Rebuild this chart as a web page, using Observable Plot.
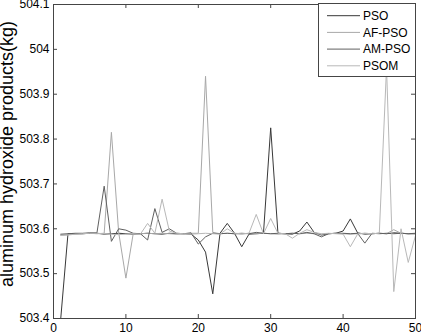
<!DOCTYPE html>
<html>
<head>
<meta charset="utf-8">
<script src="https://cdn.jsdelivr.net/npm/d3@7"></script>
<script src="https://cdn.jsdelivr.net/npm/@observablehq/plot@0.6"></script>
<style>
  body { margin: 0; background: #fff; }
  #wrap { position: relative; width: 421px; height: 332px; overflow: hidden; font-family: "Liberation Sans", Arial, sans-serif; }
  #legend { position: absolute; left: 318px; top: 3px; }
</style>
</head>
<body>
<div id="wrap"></div>
<script>
const seriesNames = ["PSO", "AF-PSO", "AM-PSO", "PSOM"];
const seriesColors = ["#383838", "#a8a8a8", "#606060", "#b8b8b8"];
const xTicks = [0, 10, 20, 30, 40, 50];
const yTicks = [503.4, 503.5, 503.6, 503.7, 503.8, 503.9, 504.0, 504.1];
const iterations = d3.range(1, 51);

const pso = [503.40, 503.589, 503.589, 503.589, 503.590, 503.590, 503.588, 503.589, 503.590, 503.589,
  503.588, 503.589, 503.590, 503.589, 503.588, 503.590, 503.589, 503.589, 503.588, 503.575,
  503.548, 503.455, 503.590, 503.612, 503.590, 503.560, 503.588, 503.589, 503.590, 503.825,
  503.590, 503.589, 503.588, 503.595, 503.615, 503.592, 503.586, 503.589, 503.590, 503.595,
  503.622, 503.591, 503.588, 503.589, 503.590, 503.589, 503.591, 503.590, 503.589, 503.589];
const afpso = [503.586, 503.587, 503.588, 503.589, 503.590, 503.589, 503.590, 503.815, 503.592, 503.490,
  503.588, 503.589, 503.590, 503.589, 503.590, 503.589, 503.588, 503.589, 503.590, 503.590,
  503.940, 503.592, 503.589, 503.590, 503.589, 503.588, 503.590, 503.589, 503.590, 503.589,
  503.588, 503.589, 503.590, 503.589, 503.590, 503.589, 503.588, 503.589, 503.590, 503.589,
  503.588, 503.589, 503.590, 503.589, 503.590, 503.589, 503.598, 503.590, 503.589, 503.589];
const ampso = [503.588, 503.589, 503.590, 503.590, 503.591, 503.591, 503.695, 503.572, 503.600, 503.597,
  503.590, 503.589, 503.575, 503.645, 503.592, 503.600, 503.590, 503.589, 503.591, 503.566,
  503.582, 503.590, 503.589, 503.590, 503.589, 503.590, 503.589, 503.592, 503.590, 503.589,
  503.590, 503.589, 503.590, 503.589, 503.592, 503.589, 503.582, 503.589, 503.590, 503.590,
  503.589, 503.590, 503.568, 503.590, 503.589, 503.590, 503.589, 503.590, 503.589, 503.590];
const psom = [503.585, 503.586, 503.588, 503.589, 503.590, 503.590, 503.589, 503.588, 503.587, 503.588,
  503.589, 503.588, 503.612, 503.590, 503.666, 503.595, 503.590, 503.589, 503.588, 503.589,
  503.590, 503.589, 503.588, 503.600, 503.590, 503.589, 503.590, 503.632, 503.589, 503.623,
  503.590, 503.589, 503.579, 503.590, 503.598, 503.592, 503.589, 503.590, 503.589, 503.588,
  503.560, 503.588, 503.590, 503.589, 503.590, 503.960, 503.460, 503.600, 503.525, 503.585];

const seriesValues = [pso, afpso, ampso, psom];
const rows = [];
seriesNames.forEach((name, si) => {
  iterations.forEach((x, i) => rows.push({series: name, x, y: seriesValues[si][i]}));
});

const W = 421, H = 332, mT = 4, mB = 14, mL = 53, mR = 6;
const frameH = H - mT - mB, frameW = W - mL - mR;
const tickLen = 4;
const axisColor = "#454545";

const chart = Plot.plot({
  width: W, height: H,
  marginTop: mT, marginBottom: mB, marginLeft: mL, marginRight: mR,
  style: {fontFamily: "'Liberation Sans', Arial, sans-serif", fontSize: "12px", background: "#fff", color: "#000"},
  x: {domain: [0, 50]},
  y: {domain: [503.4, 504.1]},
  color: {domain: seriesNames, range: seriesColors},
  marks: [
    Plot.line(rows, {x: "x", y: "y", z: "series", stroke: "series", strokeWidth: 1, clip: true}),
    Plot.frame({stroke: axisColor, strokeWidth: 1}),
    Plot.ruleX(xTicks, {x: d => d, insetTop: frameH - tickLen, stroke: axisColor}),
    Plot.ruleX(xTicks, {x: d => d, insetBottom: frameH - tickLen, stroke: axisColor}),
    Plot.ruleY(yTicks, {y: d => d, insetRight: frameW - tickLen, stroke: axisColor}),
    Plot.ruleY(yTicks, {y: d => d, insetLeft: frameW - tickLen, stroke: axisColor}),
    Plot.axisX(xTicks, {tickSize: 0, tickPadding: 5, label: null, fontSize: 12}),
    Plot.axisY(yTicks, {tickSize: 0, tickPadding: 4, label: null, fontSize: 12, tickFormat: d => String(+d.toFixed(1))})
  ]
});

d3.select(chart).append("text")
  .attr("transform", "translate(13,154) rotate(-90)")
  .attr("text-anchor", "middle")
  .attr("font-size", 18)
  .attr("font-family", "'Liberation Sans', Arial, sans-serif")
  .attr("fill", "#000")
  .text("aluminum hydroxide products(kg)");

const wrap = document.getElementById("wrap");
wrap.appendChild(chart);

// legend overlay
const lg = d3.select(wrap).append("svg").attr("id", "legend")
  .attr("width", 98).attr("height", 75);
lg.append("rect").attr("x", 0.5).attr("y", 0.5).attr("width", 97).attr("height", 73)
  .attr("fill", "#fff").attr("stroke", axisColor);
seriesNames.forEach((name, i) => {
  const cy = 12.7 + i * 16.7;
  lg.append("line").attr("x1", 9).attr("x2", 42).attr("y1", cy).attr("y2", cy)
    .attr("stroke", seriesColors[i]).attr("stroke-width", 1);
  lg.append("text").attr("x", 45).attr("y", cy).attr("dy", "0.35em")
    .attr("font-size", 12).attr("font-family", "'Liberation Sans', Arial, sans-serif")
    .attr("fill", "#000").text(name);
});
</script>
</body>
</html>
